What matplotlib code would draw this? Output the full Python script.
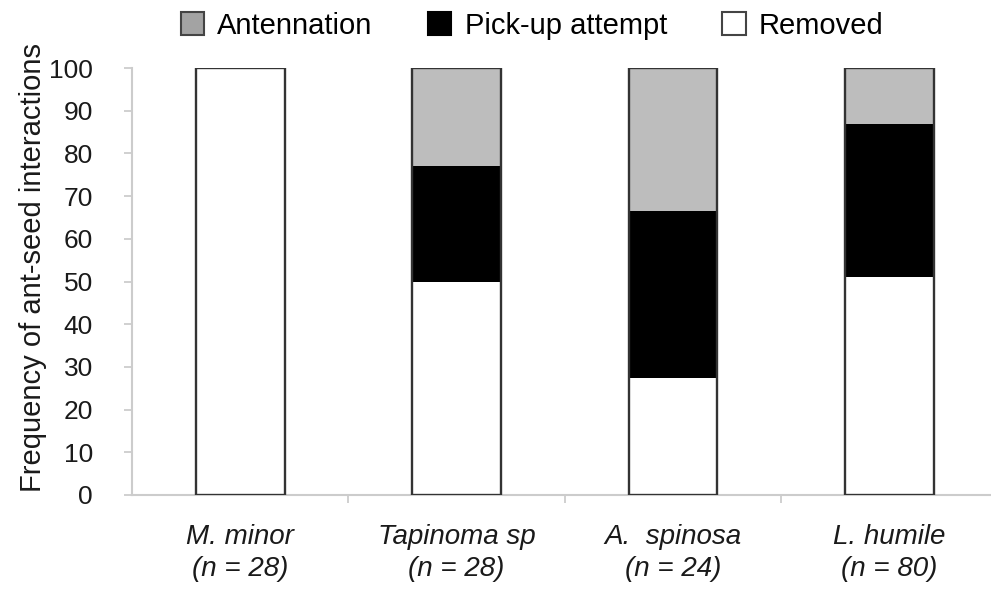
import matplotlib
matplotlib.use("Agg")
import matplotlib.pyplot as plt
from matplotlib.patches import Patch
import numpy as np

plt.rcParams['font.family'] = ['Liberation Sans', 'DejaVu Sans']

categories = ["M. minor\n(n = 28)", "Tapinoma sp\n(n = 28)", "A.  spinosa\n(n = 24)", "L. humile\n(n = 80)"]
removed = [100, 50, 27.5, 51]
pickup = [0, 27, 39, 36]
antennation = [0, 23, 33.5, 13]
yticks = list(range(0, 101, 10))

W, H = 991, 595
fig = plt.figure(figsize=(W / 100, H / 100), dpi=100)
ax = fig.add_axes([132 / W, 1 - 495 / H, (W - 132) / W, (495 - 68) / H])

x = np.arange(len(categories))
w = 0.41
ec = '#333333'
lw = 1.7
ax.bar(x, removed, w, color='white', linewidth=0, zorder=3)
b = np.array(removed)
ax.bar(x, pickup, w, bottom=b, color='black', linewidth=0, zorder=3)
b2 = b + np.array(pickup)
ax.bar(x, antennation, w, bottom=b2, color='#bdbdbd', linewidth=0, zorder=3)
tot = b2 + np.array(antennation)
ax.bar(x, tot, w, fill=False, edgecolor=ec, linewidth=lw, zorder=4)

ax.set_xlim(-0.5, 3.469)
ax.set_ylim(0, 100)
ax.set_yticks(yticks)
ax.tick_params(axis='y', direction='out', length=6, color='#c8c8c8', width=1.2,
               labelsize=19, pad=22, labelcolor='#1a1a1a')
ax.set_xticks(x)
ax.set_xticklabels(categories, fontsize=20, style='italic', color='#1a1a1a', linespacing=1.3)
ax.tick_params(axis='x', length=0, pad=21)
ax.set_xticks(np.arange(0.5, 3.5, 1), minor=True)
ax.tick_params(axis='x', which='minor', direction='out', length=6, color='#c8c8c8', width=1.2)

for s in ['top', 'right']:
    ax.spines[s].set_visible(False)
for s in ['left', 'bottom']:
    ax.spines[s].set_color('#cccccc')
    ax.spines[s].set_linewidth(1.5)

fig.text(33 / W, 1 - 268 / H, "Frequency of ant-seed interactions", rotation=90,
         ha='center', va='center', fontsize=21, color='#1a1a1a')

handles = [Patch(facecolor='#a3a3a3', edgecolor='#444444', linewidth=1.5, label='Antennation'),
           Patch(facecolor='black', edgecolor='black', linewidth=1.5, label='Pick-up attempt'),
           Patch(facecolor='white', edgecolor='#444444', linewidth=1.5, label='Removed')]
fig.legend(handles=handles, loc='center', bbox_to_anchor=(0.537, 0.957), ncol=3, frameon=False,
           prop={'size': 21}, handlelength=0.8, handleheight=0.8,
           columnspacing=1.9, handletextpad=0.45, borderpad=0, borderaxespad=0)

fig.savefig("out.png", dpi=100)
